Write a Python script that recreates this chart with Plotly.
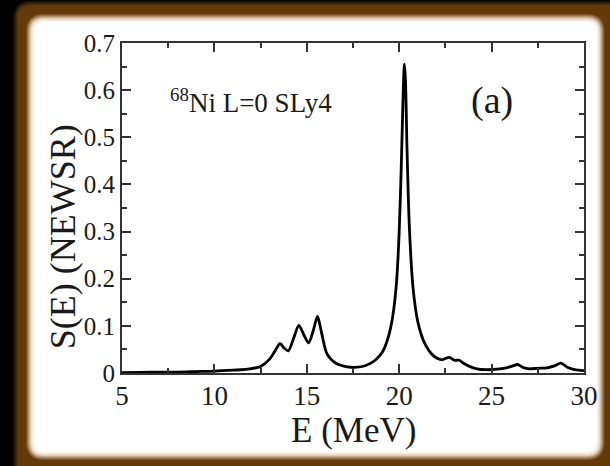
import plotly.graph_objects as go

# ---- data ----
energy = [5, 6, 7, 8, 9, 10, 11, 11.8, 12.5, 13.0, 13.3, 13.55, 13.8, 14.0, 14.3,
          14.57, 14.85, 15.1, 15.35, 15.58, 15.8, 16.1, 16.6, 17.2, 17.6, 18.2,
          18.7, 19.1, 19.4, 19.65, 19.85, 20.0, 20.12, 20.22, 20.28, 20.34, 20.42,
          20.55, 20.75, 21.0, 21.3, 21.6, 21.9, 22.3, 22.7, 23.0, 23.25, 23.5,
          23.8, 24.2, 24.7, 25.3, 25.8, 26.15, 26.4, 26.7, 27.0, 27.5, 28.0,
          28.4, 28.75, 29.1, 29.5, 30]
strength = [0.001, 0.0015, 0.002, 0.002, 0.003, 0.004, 0.006, 0.008, 0.014, 0.03,
            0.048, 0.062, 0.052, 0.047, 0.075, 0.101, 0.08, 0.064, 0.09, 0.12,
            0.085, 0.04, 0.02, 0.013, 0.012, 0.016, 0.027, 0.045, 0.075, 0.12,
            0.19, 0.3, 0.45, 0.6, 0.655, 0.62, 0.48, 0.31, 0.18, 0.11, 0.07,
            0.048, 0.035, 0.028, 0.033, 0.027, 0.027, 0.02, 0.014, 0.009, 0.007,
            0.008, 0.011, 0.015, 0.018, 0.012, 0.009, 0.01, 0.011, 0.015, 0.021,
            0.012, 0.007, 0.005]

x_ticks = [5, 10, 15, 20, 25, 30]
x_ticktext = ["5", "10", "15", "20", "25", "30"]
y_ticks = [0, 0.1, 0.2, 0.3, 0.4, 0.5, 0.6, 0.7]
y_ticktext = ["0", "0.1", "0.2", "0.3", "0.4", "0.5", "0.6", "0.7"]

x_title = "E (MeV)"
y_title = "S(E) (NEWSR)"
label_text = "<sup>68</sup>Ni L=0 SLy4"
panel_text = "(a)"

# ---- geometry ----
W, H = 610, 466
L, R, T, B = 122, 16, 43, 93
PW, PH = W - L - R, H - T - B


def X(px):
    return (px - L) / PW


def Y(py):
    return (H - B - py) / PH


def rrect(x0, y0, x1, y1, r):
    p = [
        f"M {X(x0 + r)},{Y(y0)}",
        f"L {X(x1 - r)},{Y(y0)}",
        f"Q {X(x1)},{Y(y0)} {X(x1)},{Y(y0 + r)}",
        f"L {X(x1)},{Y(y1 - r)}",
        f"Q {X(x1)},{Y(y1)} {X(x1 - r)},{Y(y1)}",
        f"L {X(x0 + r)},{Y(y1)}",
        f"Q {X(x0)},{Y(y1)} {X(x0)},{Y(y1 - r)}",
        f"L {X(x0)},{Y(y0 + r)}",
        f"Q {X(x0)},{Y(y0)} {X(x0 + r)},{Y(y0)}",
        "Z",
    ]
    return " ".join(p)


def lerp(c1, c2, t):
    return "rgb(%d,%d,%d)" % tuple(round(a + (b - a) * t) for a, b in zip(c1, c2))


shapes = []
black = (0, 0, 0)
brown = (100, 58, 10)
cream = (235, 215, 190)
white = (255, 255, 255)

# outer soft edge black -> brown
for i, t in enumerate([0.35, 0.7, 1.0]):
    d = 2 * i
    shapes.append(dict(type="path", xref="paper", yref="paper",
                       path=rrect(11 + d, 1 + d, 640, 490, 18 - d),
                       fillcolor=lerp(black, brown, t), line=dict(width=0), layer="below"))

# inner glow brown -> white
wx0, wy0, wx1, wy1 = 32, 22, 607, 452
steps = 9
for k in range(steps, 0, -1):
    t = 1 - k / steps
    if t < 0.6:
        col = lerp(brown, cream, t / 0.6)
    else:
        col = lerp(cream, white, (t - 0.6) / 0.4)
    shapes.append(dict(type="path", xref="paper", yref="paper",
                       path=rrect(wx0 - k, wy0 - k, wx1 + k, wy1 + k, 10 + k),
                       fillcolor=col, line=dict(width=0), layer="below"))
shapes.append(dict(type="path", xref="paper", yref="paper",
                   path=rrect(wx0, wy0, wx1, wy1, 10),
                   fillcolor="white", line=dict(width=0), layer="below"))

serif = "Liberation Serif"
ink = "#1a1a1a"

fig = go.Figure()
fig.add_trace(go.Scatter(x=energy, y=strength, mode="lines",
                         line=dict(color="black", width=2.8, shape="spline", smoothing=0.8),
                         showlegend=False, hoverinfo="skip"))

axis_common = dict(showgrid=False, zeroline=False, showline=True, linecolor="#333",
                   linewidth=2, mirror="ticks", ticks="inside", tickcolor="#333",
                   tickwidth=2, ticklen=9)

fig.update_xaxes(range=[5, 30], tickvals=x_ticks, ticktext=x_ticktext,
                 tickfont=dict(family=serif, size=27, color=ink),
                 ticklabelstandoff=-2,
                 minor=dict(dtick=2.5, ticks="inside", ticklen=5, tickwidth=1.5,
                            tickcolor="#333"),
                 **axis_common)
fig.update_yaxes(range=[0, 0.7], tickvals=y_ticks, ticktext=y_ticktext,
                 tickfont=dict(family=serif, size=25, color=ink),
                 minor=dict(dtick=0.05, ticks="inside", ticklen=5, tickwidth=1.5,
                            tickcolor="#333"),
                 **axis_common)

annotations = [
    dict(text=x_title, xref="paper", yref="paper", x=X(358), y=Y(430),
         xanchor="center", yanchor="middle", showarrow=False,
         font=dict(family=serif, size=35, color=ink)),
    dict(text=y_title, xref="paper", yref="paper", x=X(62), y=Y(237),
         xanchor="center", yanchor="middle", showarrow=False, textangle=-90,
         font=dict(family=serif, size=36, color=ink)),
    dict(text=label_text, xref="paper", yref="paper", x=X(169), y=Y(101),
         xanchor="left", yanchor="middle", showarrow=False,
         font=dict(family=serif, size=27, color=ink)),
    dict(text=panel_text, xref="paper", yref="paper", x=X(500), y=Y(100),
         xanchor="center", yanchor="middle", showarrow=False,
         font=dict(family=serif, size=38, color=ink)),
]

fig.update_layout(width=W, height=H, autosize=False,
                  margin=dict(l=L, r=R, t=T, b=B, pad=0),
                  paper_bgcolor="black", plot_bgcolor="white",
                  shapes=shapes, annotations=annotations)

fig.write_html("out.html")
